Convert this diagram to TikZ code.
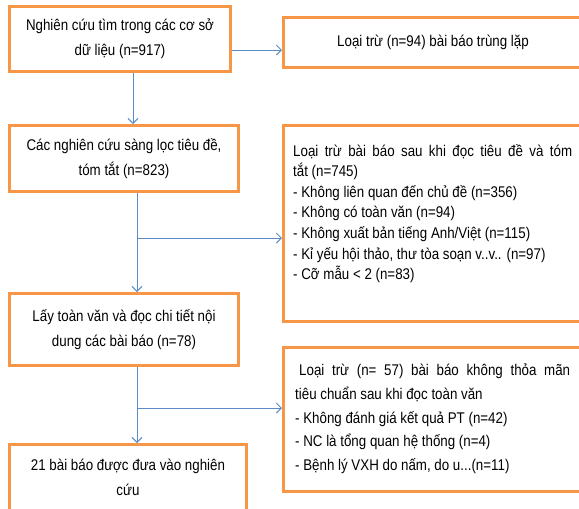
\documentclass[tikz,border=0pt]{standalone}
\usepackage{fontspec}
\setmainfont{Liberation Sans}[FakeStretch=0.86]
\usetikzlibrary{arrows.meta,calc}
\definecolor{boxorange}{RGB}{247,150,70}
\definecolor{arrowblue}{RGB}{91,140,200}
\begin{document}
\begin{tikzpicture}[x=1pt,y=1pt,
  box/.style={draw=boxorange, line width=3pt, fill=white, inner sep=0pt},
  txt/.style={font=\fontsize{15.5}{25}\selectfont, align=center},
  listtxt/.style={anchor=north west, inner sep=0pt, align=justify},
  arr/.style={draw=arrowblue, line width=1pt, -{Straight Barb[length=5pt,width=10pt]}}]
\useasboundingbox (0,0) rectangle (579,-509);
\clip (0,0) rectangle (579,-509);
% boxes
\node[box, minimum width=221pt, minimum height=65pt, txt] (A) at (120,-39)
  {Nghiên cứu tìm trong các cơ sở\\dữ liệu (n=917)};
\node[box, minimum width=299pt, minimum height=50pt, txt] (B2) at (433,-42.5)
  {Loại trừ (n=94) bài báo trùng lặp};
\node[box, minimum width=229pt, minimum height=66pt, txt] (B) at (124,-158.5)
  {Các nghiên cứu sàng lọc tiêu đề,\\tóm tắt (n=823)};
\node[box, minimum width=299pt, minimum height=196pt] (D) at (433,-223.5) {};
\node[box, minimum width=229pt, minimum height=72pt, txt] (C) at (124,-329.5)
  {Lấy toàn văn và đọc chi tiết nội\\dung các bài báo (n=78)};
\node[box, minimum width=299pt, minimum height=144pt] (F) at (433,-419.5) {};
\node[box, minimum width=237pt, minimum height=66pt, txt] (E) at (128,-477.5)
  {21 bài báo được đưa vào nghiên\\cứu};
% list texts
\node[listtxt, text width=279pt, font=\fontsize{15.5}{20.6}\selectfont] (Dt)
  at ([xshift=11pt,yshift=-20pt]D.north west)
  {Loại trừ bài báo sau khi đọc tiêu đề và tóm\linebreak tắt (n=745)\\
   - Không liên quan đến chủ đề (n=356)\\
   - Không có toàn văn (n=94)\\
   - Không xuất bản tiếng Anh/Việt (n=115)\\
   - Kỉ yếu hội thảo, thư tòa soạn v..v.. (n=97)\\
   - Cỡ mẫu < 2 (n=83)};
\node[listtxt, text width=275pt, font=\fontsize{15.5}{23.6}\selectfont] (Ft)
  at ([xshift=13pt,yshift=-18pt]F.north west)
  {\hspace*{4pt}Loại trừ (n= 57) bài báo không thỏa mãn\linebreak tiêu chuẩn sau khi đọc toàn văn\\
   - Không đánh giá kết quả PT (n=42)\\
   - NC là tổng quan hệ thống (n=4)\\
   - Bệnh lý VXH do nấm, do u...(n=11)};
% connectors
\draw[arr] ([yshift=-11pt]A.east) -- ([yshift=-11pt]A.east -| B2.west);
\draw[arr] ([xshift=13pt]A.south) -- ([xshift=13pt]A.south |- B.north);
\coordinate (j1) at ([xshift=13pt]B.south |- 0,-238);
\draw[arr] ([xshift=13pt]B.south) -- ([xshift=13pt]B.south |- C.north);
\draw[arr] (j1) -- (j1 -| D.west);
\coordinate (j2) at ([xshift=13pt]C.south |- 0,-408);
\draw[arr] ([xshift=13pt]C.south) -- ([xshift=13pt]C.south |- E.north);
\draw[arr] (j2) -- (j2 -| F.west);
\end{tikzpicture}
\end{document}
